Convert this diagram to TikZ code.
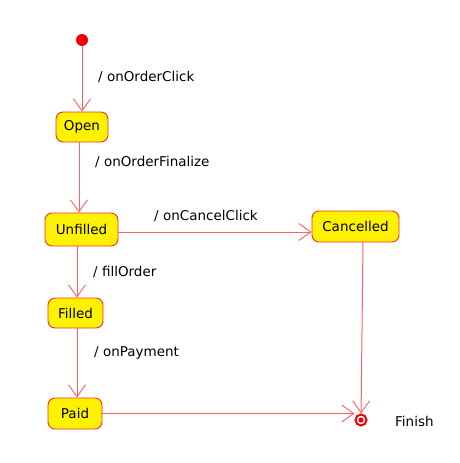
\documentclass[tikz,border=0pt]{standalone}
\usepackage{fontspec}
\setmainfont{DejaVu Sans}
\usetikzlibrary{arrows.meta}
\definecolor{boxred}{HTML}{F03030}
\definecolor{linered}{HTML}{FF6060}
\definecolor{dotred}{HTML}{EE0000}
\tikzset{
  state/.style={draw=boxred, fill=yellow, rounded corners=7pt, inner sep=0pt, line width=0.9pt, font=\fontsize{13.5}{16}\selectfont},
  tr/.style={draw=linered, line width=1pt, -{Straight Barb[length=12pt,width=17pt,line width=0.9pt]}},
  lbl/.style={anchor=west, inner sep=0pt, font=\fontsize{13.5}{16}\selectfont},
}
\begin{document}
\begin{tikzpicture}[x=1pt,y=-1pt]
\useasboundingbox (0,0) rectangle (459,463);
\node[circle, fill=dotred, minimum size=12pt, inner sep=0pt] (init) at (82,40) {};
\node[state, minimum width=52pt, minimum height=30pt] (open) at (82,127) {Open};
\node[state, minimum width=73pt, minimum height=33pt] (unfilled) at (81.5,229.5) {Unfilled};
\node[state, minimum width=55pt, minimum height=30pt] (filled) at (75.5,313) {Filled};
\node[state, minimum width=54pt, minimum height=31pt] (paid) at (75,413.5) {Paid};
\node[state, minimum width=87pt, minimum height=31pt] (cancelled) at (355.5,226.5) {Cancelled};
\node[circle, draw=dotred, line width=2pt, minimum size=11pt, inner sep=0pt] (finish) at (361,420) {};
\fill[dotred] (finish) circle (2.6pt);
\node[lbl] (lfin) at (395,421) {Finish};

\draw[tr] (init) -- (open.north);
\draw[tr] ([xshift=-3pt]open.south) -- ([xshift=-2.5pt]unfilled.north);
\draw[tr] ([xshift=-4.5pt]unfilled.south) -- ([xshift=1.5pt]filled.north);
\draw[tr] ([xshift=1.5pt]filled.south) -- ([xshift=2pt]paid.north);
\draw[tr] ([yshift=-2.5pt]unfilled.east) -- ([yshift=-5.5pt]cancelled.west);
\draw[tr] ([xshift=7.5pt]cancelled.south) -- (finish);
\draw[tr] (paid.east) -- (finish.west |- paid.east);

\node[lbl] (l1) at (98,77) {/ onOrderClick};
\node[lbl] (l2) at (95,162) {/ onOrderFinalize};
\node[lbl] (l3) at (154,216) {/ onCancelClick};
\node[lbl] (l4) at (93,272) {/ fillOrder};
\node[lbl] (l5) at (94,353) {/ onPayment};
\end{tikzpicture}
\end{document}
